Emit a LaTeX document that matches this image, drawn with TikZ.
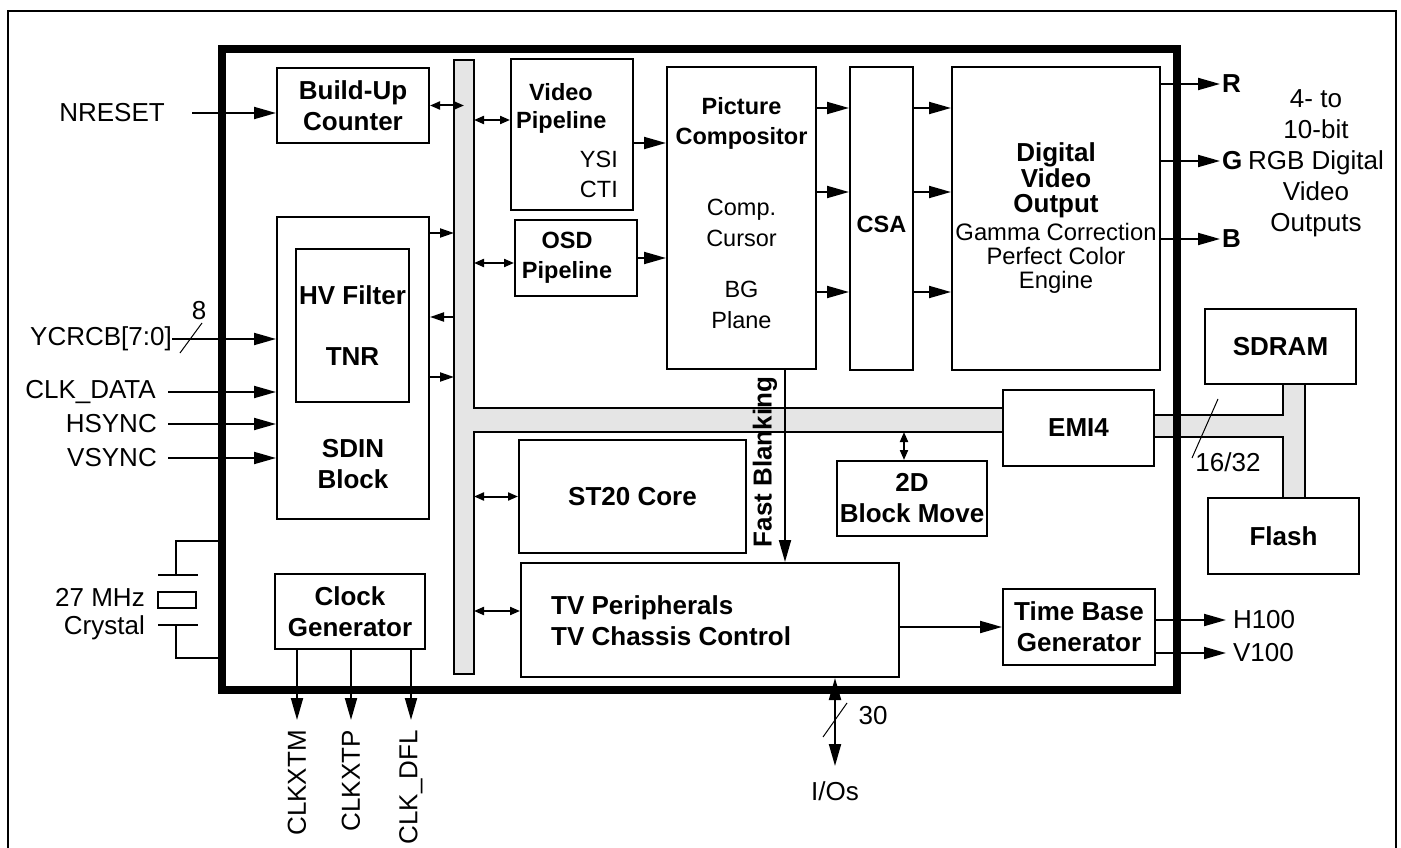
\documentclass[tikz,border=0pt]{standalone}
\usepackage{fontspec}
\setmainfont{Liberation Sans}
\usetikzlibrary{arrows.meta}

\begin{document}
\begin{tikzpicture}[x=1pt, y=-1pt,
        blk/.style={draw, line width=2pt, fill=white, align=center, inner sep=0pt, font=\fontsize{26}{31}\selectfont\bfseries},
        txt/.style={inner sep=0pt, align=center, font=\fontsize{26}{31}\selectfont},
        btxt/.style={inner sep=0pt, align=center, font=\fontsize{26}{31}\selectfont\bfseries},
        stxt/.style={inner sep=0pt, align=center, font=\fontsize{23.5}{31}\selectfont},
        sbtxt/.style={inner sep=0pt, align=center, font=\fontsize{23.5}{30}\selectfont\bfseries},
        sig/.style={line width=2pt, -{Triangle[length=22pt,width=12pt]}},
        sigs/.style={line width=2pt, -{Triangle[length=14pt,width=9pt]}},
        bidir/.style={line width=2pt, {Triangle[length=10pt,width=8pt]}-{Triangle[length=10pt,width=8pt]}},
        iobus/.style={line width=2pt, {Triangle[length=22pt,width=12pt]}-{Triangle[length=22pt,width=12pt]}},
        slash/.style={line width=1pt},
        wire/.style={line width=2pt},
        bus/.style={draw, line width=2pt, fill=black!10}]
        \useasboundingbox (0,0) rectangle (1401,848);

        % Outer frame
        \draw[wire] (8,848) -- (8,11) -- (1396,11) -- (1396,848);

        % Buses
        \draw[bus] (454,60) -- (474,60) -- (474,408) -- (1003,408) -- (1003,432) -- (474,432) -- (474,674) -- (454,674) -- cycle;
        \draw[bus] (1154,415) -- (1283,415) -- (1283,384) -- (1305,384) -- (1305,498) -- (1283,498) -- (1283,437) -- (1154,437) -- cycle;
        \coordinate (busL) at (454,60);
        \coordinate (busM) at (464,60);
        \coordinate (busR) at (474,60);
        \coordinate (busB) at (474,432);

        % Chip outline
        \draw[line width=8pt] (222,49) rectangle (1177,690);

        % Blocks
        \node[blk, minimum width=152pt, minimum height=75pt] (buc) at (353,105.5) {Build-Up\\Counter};
        \node[blk, minimum width=152pt, minimum height=302pt] (sdin) at (353,368) {};
        \node[blk, minimum width=113pt, minimum height=153pt] (hvf) at (352.5,325.5) {HV Filter\\[30pt]TNR};
        \node[btxt] (sdintxt) at ([yshift=56pt]sdin.south) {SDIN\\Block};
        \node[blk, minimum width=122pt, minimum height=151pt] (vp) at (572,134.5) {};
        \node[sbtxt] (vptitle) at ([xshift=-11pt,yshift=42.5pt]vp.center) {Video};
        \node[sbtxt, anchor=west] (vpname) at ([xshift=6pt,yshift=12.5pt]vp.west) {Pipeline};
        \node[stxt, anchor=east] (ysi) at ([xshift=-16pt,yshift=-24.5pt]vp.east) {YSI};
        \node[stxt, anchor=east] (cti) at ([xshift=-16pt,yshift=-54.5pt]vp.east) {CTI};
        \node[blk, minimum width=122pt, minimum height=76pt] (osd) at (576,258) {};
        \node[sbtxt] (osdtxt) at ([xshift=-9pt]osd.center) {OSD\\Pipeline};
        \node[blk, minimum width=149pt, minimum height=302pt] (pc) at (741.5,218) {};
        \node[sbtxt] (pctitle) at ([yshift=94.5pt]pc.center) {Picture\\Compositor};
        \node[stxt] (pccomp) at ([yshift=-5pt]pc.center) {Comp.\\Cursor};
        \node[stxt] (pcbg) at ([yshift=-86.5pt]pc.center) {BG\\Plane};
        \node[blk, minimum width=63pt, minimum height=303pt] (csa) at (881.5,218.5) {};
        \node[sbtxt] (csatxt) at ([yshift=-5.5pt]csa.center) {CSA};
        \node[blk, minimum width=208pt, minimum height=303pt] (dvo) at (1056,218.5) {};
        \node[btxt, font=\fontsize{26}{25.5}\selectfont\bfseries] (dvotitle) at ([yshift=37.8pt]dvo.center) {Digital\\Video\\Output};
        \node[txt, font=\fontsize{23.8}{24}\selectfont] (dvosub) at ([yshift=-39.5pt]dvo.center) {Gamma Correction\\Perfect Color\\Engine};
        \node[blk, minimum width=227pt, minimum height=113pt] (st20) at (632.5,496.5) {ST20 Core};
        \node[blk, minimum width=150pt, minimum height=75pt] (bm2d) at (912,498.5) {2D\\Block Move};
        \node[blk, minimum width=151pt, minimum height=76pt] (emi) at (1078.5,428) {EMI4};
        \node[blk, minimum width=378pt, minimum height=114pt] (tvp) at (710,620) {};
        \node[btxt, anchor=west, align=left] (tvptxt) at ([xshift=31pt,yshift=-1pt]tvp.west) {TV Peripherals\\TV Chassis Control};
        \node[blk, minimum width=152pt, minimum height=76pt] (tbg) at (1079,627) {Time Base\\Generator};
        \node[blk, minimum width=150pt, minimum height=75pt] (clk) at (350,611.5) {Clock\\Generator};
        \node[blk, minimum width=151pt, minimum height=75pt] (sdram) at (1280.5,346.5) {SDRAM};
        \node[blk, minimum width=151pt, minimum height=76pt] (flash) at (1283.5,536) {Flash};

        % Inputs
        \node[txt, anchor=east] (nreset) at (165,113) {NRESET};
        \draw[sig] ([xshift=27pt]nreset.east) -- (nreset -| buc.west);
        \node[txt, anchor=east] (ycrcb) at (172,339) {YCRCB[7:0]};
        \draw[sig] (ycrcb.east) -- (ycrcb -| sdin.west);
        \draw[slash] (180,353) -- (202,323);
        \node[txt] (ywidth) at (199,311) {8};
        \node[txt, anchor=east] (clkdata) at (156,392) {CLK\_DATA};
        \node[txt, anchor=east] (hsync) at (157,424) {HSYNC};
        \node[txt, anchor=east] (vsync) at (157,458) {VSYNC};
        \foreach \s/\dx in {clkdata/12, hsync/11, vsync/11}
            \draw[sig] ([xshift=\dx pt]\s.east) -- (\s -| sdin.west);

        % Crystal
        \draw[wire] (219,541) -- (176,541) -- (176,575);
        \draw[wire] (158,575) -- (198,575);
        \draw[wire] (158,592) rectangle (196,608);
        \draw[wire] (158,625) -- (198,625);
        \draw[wire] (176,625) -- (176,658) -- (219,658);
        \node[txt, anchor=east] (xtal) at (145,597) {27 MHz};
        \node[txt, anchor=east] (xtalb) at (145,628) {Crystal};

        % Clock outputs
        \foreach \dx/\name in {-53/CLKXTM, 1/CLKXTP, 61/CLK\_DFL}{
            \draw[sig] ([xshift=\dx pt]clk.south) -- ++(0,70) coordinate (tip);
            \node[txt, rotate=90, anchor=east] at ([yshift=-10pt]tip) {\name};
        }

        % Bus connections
        \draw[bidir] (buc.east) -- (buc.east -| busM);
        \draw[bidir] ([yshift=14.5pt]vp.west) coordinate (vpin) -- (vpin -| busR);
        \draw[bidir] ([yshift=-5pt]osd.west) coordinate (osdin) -- (osdin -| busR);
        \draw[sigs] ([yshift=135pt]sdin.east) coordinate (s1) -- (s1 -| busL);
        \draw[sigs] ([yshift=51pt]sdin.east) coordinate (s2) (s2 -| busL) -- (s2);
        \draw[sigs] ([yshift=-9pt]sdin.east) coordinate (s3) -- (s3 -| busL);
        \draw[bidir] (st20.west -| busR) -- (st20.west);
        \draw[bidir] ([yshift=9pt]tvp.west) coordinate (tvin) -- (tvin -| busR);
        \draw[bidir] ([xshift=-8pt]bm2d.north) coordinate (bmin) -- (bmin |- busB);

        % Video path
        \draw[sig] ([yshift=-8.5pt]vp.east) coordinate (v1) -- (v1 -| pc.west);
        \draw[sig] (osd.east) -- (osd.east -| pc.west);
        \foreach \dy in {110, 26, -74}{
            \draw[sig] ([yshift=\dy pt]pc.east) coordinate (p) -- (p -| csa.west);
            \draw[sig] (p -| csa.east) -- (p -| dvo.west);
        }
        \foreach \dy/\c in {134.5/R, 57.5/G, -20.5/B}
            \draw[sig] ([yshift=\dy pt]dvo.east) -- ++(59,0) node[btxt, anchor=west, xshift=1pt] (out\c) {\c};
        \node[txt] (rgbtxt) at (1316,163) {4- to\\10-bit\\RGB Digital\\Video\\Outputs};

        % Fast blanking
        \draw[sig] ([xshift=43.5pt]pc.south) coordinate (fb) -- (fb |- tvp.north);
        \node[btxt, rotate=90] (fbtxt) at (765,462) {Fast Blanking};

        % Memory bus width
        \draw[slash] (1192,458) -- (1218,399);
        \node[txt] (memw) at (1228,462) {16/32};

        % Time base
        \draw[sig] (tbg.west -| tvp.east) -- (tbg.west);
        \draw[sig] ([yshift=7pt]tbg.east) -- ++(70,0) node[txt, anchor=west, xshift=6pt] (h100) {H100};
        \draw[sig] ([yshift=-26pt]tbg.east) -- ++(70,0) node[txt, anchor=west, xshift=6pt] (v100) {V100};

        % I/Os
        \draw[iobus] ([xshift=125pt]tvp.south) -- ++(0,88) coordinate (ioend);
        \node[txt] (ios) at ([yshift=-25pt]ioend) {I/Os};
        \draw[slash] (823,737) -- (847,703);
        \node[txt] (iow) at (873,716) {30};
\end{tikzpicture}
\end{document}
